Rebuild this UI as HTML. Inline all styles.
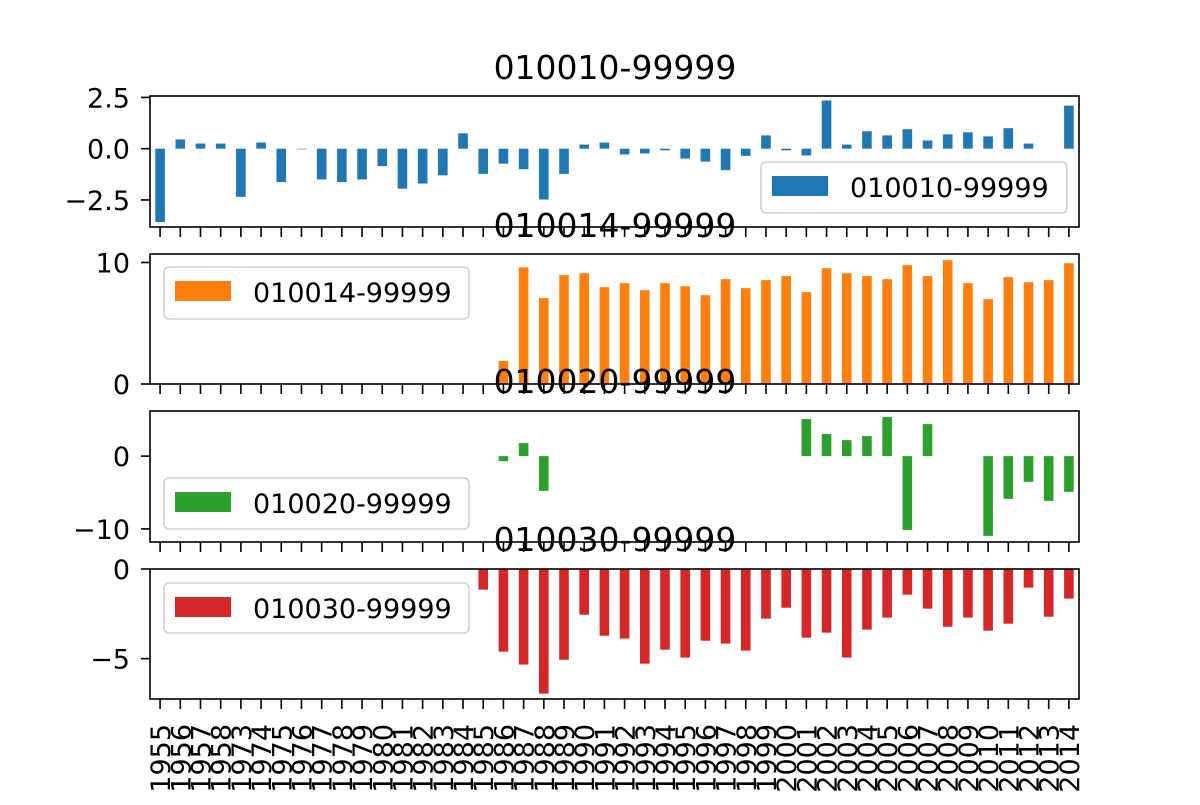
<!DOCTYPE html>
<html><head><meta charset="utf-8"><style>
body{margin:0;background:#fff;}
svg text{font-family:"DejaVu Sans","Liberation Sans",sans-serif;}
</style></head><body>
<svg id="chart" width="1200" height="800" xmlns="http://www.w3.org/2000/svg"></svg>
<script>
const years = ["1955","1956","1957","1958"].concat(Array.from({length:42},(_,i)=>String(1973+i)));
const s1 = [-3.58,0.45,0.25,0.25,-2.35,0.3,-1.63,-0.03,-1.5,-1.63,-1.5,-0.85,-1.95,-1.7,-1.3,0.75,-1.23,-0.73,-1.0,-2.48,-1.23,0.2,0.3,-0.28,-0.23,-0.08,-0.48,-0.63,-1.05,-0.35,0.65,-0.08,-0.33,2.35,0.2,0.85,0.65,0.95,0.4,0.7,0.8,0.6,1.0,0.25,null,2.1];
const s2 = [null,null,null,null,null,null,null,null,null,null,null,null,null,null,null,null,null,1.9,9.6,7.07,8.96,9.12,7.97,8.3,7.72,8.3,8.05,7.31,8.63,7.89,8.55,8.88,7.56,9.53,9.12,8.88,8.63,9.78,8.88,10.19,8.3,6.98,8.8,8.38,8.55,9.94];
const s3 = [null,null,null,null,null,null,null,null,null,null,null,null,null,null,null,null,null,-0.69,1.79,-4.77,null,null,null,null,null,null,null,null,null,null,null,null,5.09,3.03,2.2,2.75,5.37,-10.14,4.4,null,null,-10.96,-5.87,-3.53,-6.15,-4.9];
const s4 = [null,null,null,null,null,null,null,null,null,null,null,null,null,null,null,null,-1.15,-4.61,-5.33,-6.95,-5.06,-2.55,-3.72,-3.88,-5.28,-4.5,-4.94,-4.0,-4.16,-4.55,-2.77,-2.16,-3.83,-3.55,-4.94,-3.38,-2.71,-1.43,-2.21,-3.22,-2.71,-3.44,-3.05,-1.04,-2.66,-1.65];
const names = ["010010-99999","010014-99999","010020-99999","010030-99999"];
const ticks1 = [2.5,0,-2.5], tickLabels1 = ["2.5","0.0","\u22122.5"];
const ticks2 = [10,0], tickLabels2 = ["10","0"];
const ticks3 = [0,-10], tickLabels3 = ["0","\u221210"];
const ticks4 = [0,-5], tickLabels4 = ["0","\u22125"];

const NS="http://www.w3.org/2000/svg", svg=document.getElementById('chart');
function mk(t,a,p){const e=document.createElementNS(NS,t);for(const k in a)e.setAttribute(k,a[k]);(p||svg).appendChild(e);return e;}
const L=150,R=1079,n=years.length,slot=(R-L)/n;
const xc=i=>L+slot*(i+0.5);
const panels=[
 {data:s1,color:"#1f77b4",top:96,bot:227,ymax:2.57,ymin:-3.82,ticks:ticks1,tl:tickLabels1,leg:[761,162,306,51],tit:79},
 {data:s2,color:"#ff7f0e",top:254,bot:384,ymax:10.7,ymin:0,ticks:ticks2,tl:tickLabels2,leg:[164,267,305,52],tit:237},
 {data:s3,color:"#2ca02c",top:411,bot:542,ymax:6.2,ymin:-11.8,ticks:ticks3,tl:tickLabels3,leg:[164,478,305,51],tit:393},
 {data:s4,color:"#d62728",top:569,bot:699,ymax:0,ymin:-7.25,ticks:ticks4,tl:tickLabels4,leg:[164,583,305,50],tit:551}];
panels.forEach((p,k)=>{
 const g=mk('g',{});
 
 
 const y=v=>p.top+(p.ymax-v)/(p.ymax-p.ymin)*(p.bot-p.top);
 p.data.forEach((v,i)=>{ if(v===null)return;
  const r=mk('rect',{x:xc(i)-4.8,y:Math.min(y(v),y(0)),width:9.6,height:Math.abs(y(v)-y(0)),fill:p.color},g);
  
  
 });
 const fr=mk('rect',{x:L,y:p.top,width:R-L,height:p.bot-p.top,fill:'none',stroke:'#000','stroke-width':1.6},g);
 
 
 p.ticks.forEach((t,j)=>{const yy=y(t);
  mk('line',{x1:L-9,x2:L,y1:yy,y2:yy,stroke:'#000','stroke-width':1.6},g);
  const tx=mk('text',{x:L-20,y:yy+10,'text-anchor':'end','font-size':27},g);tx.textContent=p.tl[j];
  
  
 });
 for(let i=0;i<n;i++) mk('line',{x1:xc(i),x2:xc(i),y1:p.bot,y2:p.bot+10,stroke:'#000','stroke-width':1.6},g);
 const tt=mk('text',{x:615,y:p.tit,'text-anchor':'middle','font-size':33},g);tt.textContent=names[k];
 
 
 const [lx,ly,lw,lh]=p.leg;
 const lg=mk('g',{},g);
 
 
 mk('rect',{x:lx,y:ly,width:lw,height:lh,rx:5,fill:'#fff','fill-opacity':0.8,stroke:'#d0d0d0','stroke-width':1.6},lg);
 mk('rect',{x:lx+11,y:ly+14,width:56,height:20,fill:p.color},lg);
 const lt=mk('text',{x:lx+89,y:ly+35,'font-size':27},lg);lt.textContent=names[k];
});
years.forEach((yr,i)=>{
 const t=mk('text',{transform:`translate(${xc(i)+10},724) rotate(-90)`,'text-anchor':'end','font-size':27});
 t.textContent=yr;
 
 
});
</script>
</body></html>
